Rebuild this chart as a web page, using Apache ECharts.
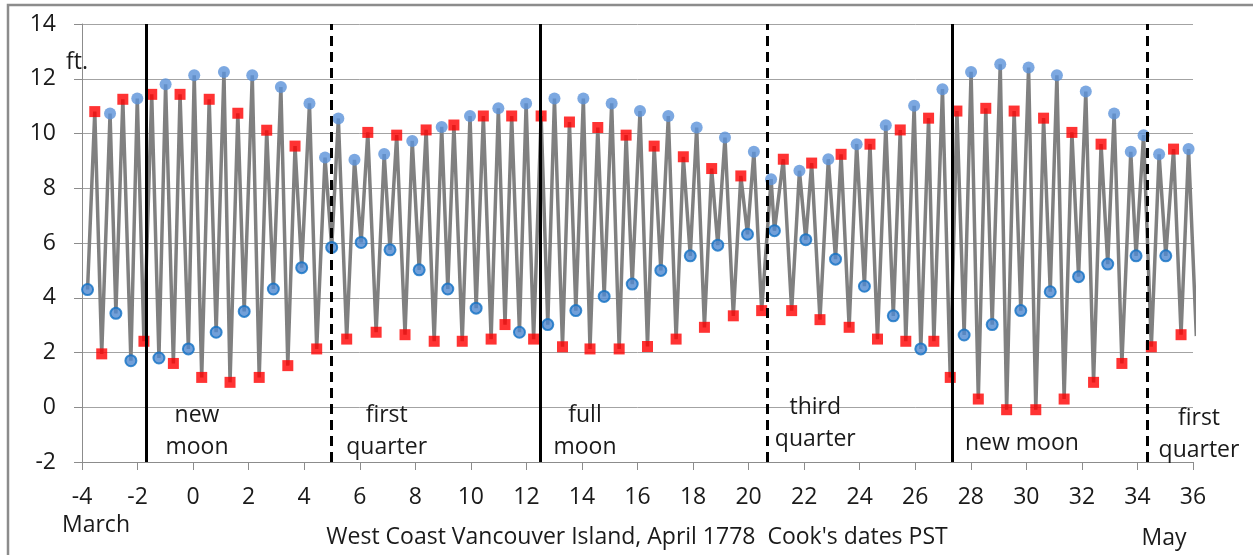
<!DOCTYPE html>
<html>
<head>
<meta charset="utf-8">
<script src="https://cdn.jsdelivr.net/npm/echarts@6/dist/echarts.min.js"></script>
<style>
  html, body { margin: 0; padding: 0; background: #fff; }
  #container { width: 1253px; height: 555px; }
</style>
</head>
<body>
<div id="container"></div>
<script>
// tide times (days, Cook's dates PST) and heights (ft.)
// marker code: B = blue high, b = blue low, R = red high, r = red low
var tideTime = [
  -3.8, -3.54, -3.29, -2.99, -2.78, -2.53, -2.24, -2.01, -1.77, -1.49,
  -1.23, -0.99, -0.71, -0.47, -0.17, 0.04, 0.31, 0.58, 0.83, 1.11,
  1.33, 1.61, 1.84, 2.13, 2.38, 2.65, 2.89, 3.16, 3.41, 3.67,
  3.91, 4.19, 4.45, 4.75, 4.99, 5.23, 5.53, 5.81, 6.05, 6.29,
  6.59, 6.88, 7.09, 7.33, 7.63, 7.89, 8.14, 8.39, 8.68, 8.95,
  9.17, 9.39, 9.69, 9.97, 10.19, 10.45, 10.73, 10.99, 11.23, 11.47,
  11.75, 11.99, 12.26, 12.53, 12.77, 13.01, 13.3, 13.55, 13.78, 14.05,
  14.29, 14.57, 14.8, 15.07, 15.34, 15.59, 15.81, 16.09, 16.36, 16.6,
  16.84, 17.11, 17.39, 17.65, 17.9, 18.13, 18.41, 18.67, 18.89, 19.15,
  19.45, 19.72, 19.96, 20.19, 20.47, 20.81, 20.93, 21.25, 21.55, 21.83,
  22.06, 22.27, 22.57, 22.87, 23.13, 23.33, 23.62, 23.89, 24.17, 24.37,
  24.64, 24.94, 25.21, 25.46, 25.66, 25.96, 26.2, 26.48, 26.67, 26.98,
  27.26, 27.5, 27.76, 28.01, 28.27, 28.54, 28.77, 29.06, 29.29, 29.56,
  29.8, 30.08, 30.34, 30.62, 30.86, 31.1, 31.36, 31.64, 31.88, 32.14,
  32.42, 32.69, 32.93, 33.16, 33.44, 33.76, 33.95, 34.22, 34.5, 34.78,
  35.02, 35.3, 35.57, 35.84, 36.12
];
var tideHeight = [
  4.3, 10.8, 1.95, 10.73, 3.43, 11.25, 1.7, 11.28, 2.41, 11.43,
  1.8, 11.8, 1.6, 11.43, 2.13, 12.13, 1.09, 11.25, 2.74, 12.25,
  0.91, 10.74, 3.5, 12.13, 1.09, 10.12, 4.32, 11.7, 1.52, 9.54,
  5.1, 11.1, 2.13, 9.12, 5.84, 10.55, 2.49, 9.04, 6.02, 10.04,
  2.74, 9.25, 5.75, 9.94, 2.65, 9.73, 5.02, 10.13, 2.41, 10.24,
  4.32, 10.31, 2.41, 10.64, 3.62, 10.64, 2.49, 10.92, 3.02, 10.64,
  2.74, 11.1, 2.49, 10.64, 3.02, 11.28, 2.21, 10.42, 3.53, 11.28,
  2.13, 10.22, 4.05, 11.1, 2.13, 9.94, 4.5, 10.82, 2.22, 9.54,
  5.0, 10.64, 2.49, 9.15, 5.53, 10.22, 2.92, 8.72, 5.92, 9.85,
  3.34, 8.45, 6.32, 9.33, 3.53, 8.33, 6.45, 9.06, 3.53, 8.64,
  6.12, 8.92, 3.2, 9.06, 5.41, 9.24, 2.92, 9.61, 4.42, 9.61,
  2.49, 10.3, 3.34, 10.13, 2.41, 11.01, 2.13, 10.56, 2.41, 11.62,
  1.09, 10.82, 2.64, 12.25, 0.3, 10.92, 3.02, 12.53, -0.09, 10.82,
  3.53, 12.41, -0.09, 10.56, 4.22, 12.13, 0.3, 10.04, 4.77, 11.53,
  0.91, 9.61, 5.23, 10.73, 1.6, 9.33, 5.53, 9.94, 2.21, 9.24,
  5.53, 9.43, 2.65, 9.43, 2.6
];
var tideMark = [
  'b', 'R', 'r', 'B', 'b', 'R', 'b', 'B', 'r', 'R',
  'b', 'B', 'r', 'R', 'b', 'B', 'r', 'R', 'b', 'B',
  'r', 'R', 'b', 'B', 'r', 'R', 'b', 'B', 'r', 'R',
  'b', 'B', 'r', 'B', 'b', 'B', 'r', 'B', 'b', 'R',
  'r', 'B', 'b', 'R', 'r', 'B', 'b', 'R', 'r', 'B',
  'b', 'R', 'r', 'B', 'b', 'R', 'r', 'B', 'r', 'R',
  'b', 'B', 'r', 'R', 'b', 'B', 'r', 'R', 'b', 'B',
  'r', 'R', 'b', 'B', 'r', 'R', 'b', 'B', 'r', 'R',
  'b', 'B', 'r', 'R', 'b', 'B', 'r', 'R', 'b', 'B',
  'r', 'R', 'b', 'B', 'r', 'B', 'b', 'R', 'r', 'B',
  'b', 'R', 'r', 'B', 'b', 'R', 'r', 'B', 'b', 'R',
  'r', 'B', 'b', 'R', 'r', 'B', 'b', 'R', 'r', 'B',
  'r', 'R', 'b', 'B', 'r', 'R', 'b', 'B', 'r', 'R',
  'b', 'B', 'r', 'R', 'b', 'B', 'r', 'R', 'b', 'B',
  'r', 'R', 'b', 'B', 'r', 'B', 'b', 'B', 'r', 'B',
  'b', 'R', 'r', 'B', 'r'
];

// moon phases
var phaseDay = [-1.7, 4.99, 12.5, 20.68, 27.34, 34.34];
var phaseSolid = [true, false, true, false, true, false];
var phaseText = ['new\nmoon', 'first\nquarter', 'full\nmoon', 'third\nquarter', 'new moon', 'first\nquarter'];
var phaseTextAt = [[0.14, -0.87], [6.97, -0.88], [14.11, -0.87], [22.4, -0.61], [29.84, -1.34], [36, -1.01]];

var xTicks = { min: -4, max: 36, step: 2 };
var yTicks = { min: -2, max: 14, step: 2 };

var FONT = 'Open Sans';
var FS = 23;
var TXT = '#1a1a1a';

var linePts = tideTime.map(function (t, i) { return [t, tideHeight[i]]; });
function pick(code) {
  var out = [];
  tideTime.forEach(function (t, i) { if (tideMark[i] === code) out.push([t, tideHeight[i]]); });
  return out;
}

var chart = echarts.init(document.getElementById('container'));

var option = {
  animation: false,
  backgroundColor: '#fff',
  grid: { left: 82, right: 60, top: 24, bottom: 93 },
  xAxis: {
    type: 'value', min: xTicks.min, max: xTicks.max, interval: xTicks.step,
    axisLine: { onZero: false, lineStyle: { color: '#8c8c8c', width: 1 } },
    axisTick: { show: true, length: 8, lineStyle: { color: '#8c8c8c' } },
    splitLine: { show: false },
    axisLabel: { fontFamily: FONT, fontSize: FS, color: TXT, margin: 24 }
  },
  yAxis: {
    type: 'value', min: yTicks.min, max: yTicks.max, interval: yTicks.step,
    axisLine: { show: true, onZero: false, lineStyle: { color: '#8c8c8c', width: 1 } },
    axisTick: { show: true, length: 8, lineStyle: { color: '#8c8c8c' } },
    splitLine: { show: true, lineStyle: { color: '#a3a3a3', width: 1 } },
    axisLabel: { fontFamily: FONT, fontSize: FS, color: TXT, margin: 26 }
  },
  series: [
    {
      name: 'tide', type: 'line', data: linePts, showSymbol: false, z: 2,
      lineStyle: { color: '#808080', width: 3.5 }, clip: true, silent: true
    },
    {
      name: 'phases', type: 'line', data: [], z: 3, silent: true,
      markLine: {
        silent: true, symbol: ['none', 'none'], label: { show: false },
        data: phaseDay.map(function (d, i) {
          return {
            xAxis: d,
            lineStyle: phaseSolid[i]
              ? { color: '#000', width: 3, type: 'solid' }
              : { color: '#000', width: 3, type: [10, 6] }
          };
        })
      },
      markPoint: {
        silent: true, symbol: 'circle', symbolSize: 0,
        data: phaseText.map(function (txt, i) {
          return {
            coord: phaseTextAt[i],
            label: {
              show: true, formatter: txt, position: 'inside',
              offset: i === 5 ? [6, 0] : [0, 0],
              fontFamily: FONT, fontSize: FS, lineHeight: 32, color: TXT, align: 'center', verticalAlign: 'middle'
            }
          };
        })
      }
    },
    {
      name: 'blue high', type: 'scatter', data: pick('B'), z: 4, silent: true,
      symbol: 'circle', symbolSize: 12, itemStyle: { color: '#5b92d9' }
    },
    {
      name: 'blue low', type: 'scatter', data: pick('b'), z: 4, silent: true,
      symbol: 'circle', symbolSize: 11, itemStyle: { color: '#4f88cf', borderColor: '#1170c4', borderWidth: 2 }
    },
    {
      name: 'red high', type: 'scatter', data: pick('R'), z: 4, silent: true,
      symbol: 'rect', symbolSize: 11, itemStyle: { color: '#ff0000' }
    },
    {
      name: 'red low', type: 'scatter', data: pick('r'), z: 4, silent: true,
      symbol: 'rect', symbolSize: 11, itemStyle: { color: '#ff0000' }
    }
  ],
  graphic: [
    { type: 'rect', silent: true, shape: { x: 8, y: 5, width: 1300, height: 600 },
      style: { fill: 'none', stroke: '#8c8c8c', lineWidth: 2.5 } },
    { type: 'text', silent: true, style: { text: 'ft.', x: 66, y: 62, textVerticalAlign: 'middle', font: FS + 'px ' + FONT, fill: TXT } },
    { type: 'text', silent: true, style: { text: 'March', x: 96, y: 525, textAlign: 'center', textVerticalAlign: 'middle', font: FS + 'px ' + FONT, fill: TXT } },
    { type: 'text', silent: true, style: { text: "West Coast Vancouver Island, April 1778  Cook's dates PST", x: 637, y: 537, textAlign: 'center', textVerticalAlign: 'middle', font: FS + 'px ' + FONT, fill: TXT } },
    { type: 'text', silent: true, style: { text: 'May', x: 1164, y: 538, textAlign: 'center', textVerticalAlign: 'middle', font: FS + 'px ' + FONT, fill: TXT } }
  ]
};

chart.setOption(option);
</script>
</body>
</html>
